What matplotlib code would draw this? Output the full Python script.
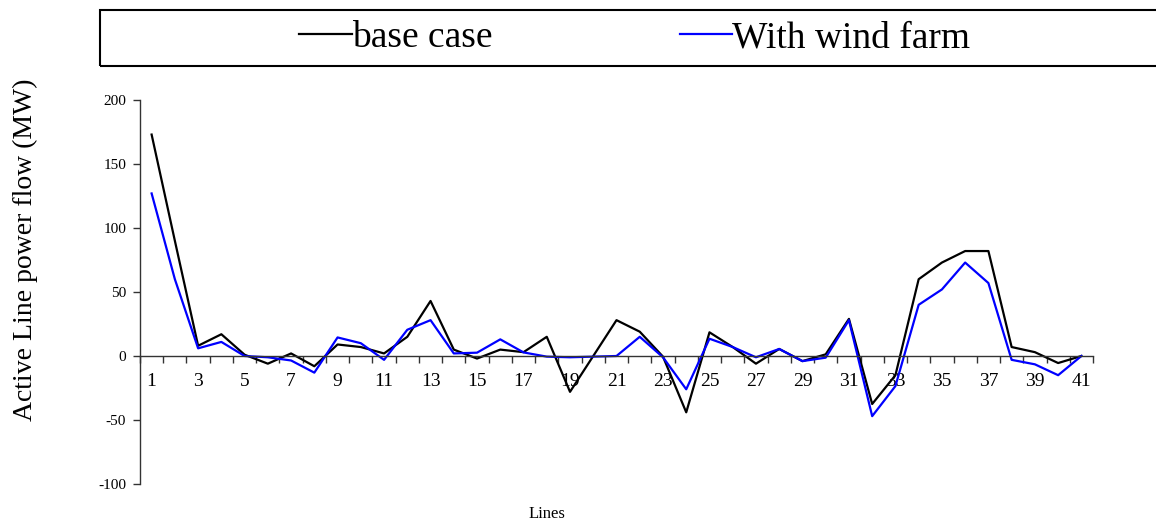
import numpy as np
import matplotlib
matplotlib.use("Agg")
import matplotlib.pyplot as plt
from matplotlib.patches import Rectangle
from matplotlib.lines import Line2D

plt.rcParams['font.family'] = ['Liberation Serif', 'DejaVu Serif']

# active power flow on each line (MW)
lines = np.arange(1, 42)
base_case = [173, 90, 8, 17, 1, -6, 2, -8, 9, 7, 2, 15, 43, 5, -2, 5, 3, 15, -28, 0,
             28, 19, -0.5, -44, 18.5, 7, -6, 5.5, -4, 1.3, 29, -37.5, -15, 60, 73, 82, 82,
             7, 3, -5.5, 0]
wind_farm = [127, 60, 6, 11, 0, -1, -3.5, -13, 14.5, 10, -3, 20.5, 28, 2, 2.6, 13, 2.8,
             -0.5, -1, -0.5, 0, 15, -1, -26, 13.5, 7, -1, 5.5, -4, -1.3, 28, -47, -23.5,
             40, 52, 73, 57, -3, -6.5, -15, 0]
y_ticks = [-100, -50, 0, 50, 100, 150, 200]

fig = plt.figure(figsize=(11.56, 5.26), dpi=100)
ax = fig.add_axes([140/1156, 1-484/526, (1093-140)/1156, (484-100)/526])

ax.plot(lines, base_case, color='black', lw=1.6)
ax.plot(lines, wind_farm, color='#0000ff', lw=1.6)

ax.set_xlim(0.5, 41.5)
ax.set_ylim(-100, 200)

for s in ['top', 'right']:
    ax.spines[s].set_visible(False)
ax.spines['bottom'].set_position(('data', 0))
ax.spines['bottom'].set_color('#333333')
ax.spines['left'].set_color('#333333')
ax.spines['bottom'].set_linewidth(1.0)
ax.spines['left'].set_linewidth(1.0)

# category axis: tick marks between lines, labels on odd lines
ax.set_xticks(np.arange(0.5, 42, 1.0))
ax.set_xticklabels([])
ax.set_xticks(lines[::2], minor=True)
ax.set_xticklabels([str(v) for v in lines[::2]], minor=True, fontsize=14)
ax.tick_params(axis='x', which='major', direction='out', length=5, width=1, color='#333333')
ax.tick_params(axis='x', which='minor', length=0, pad=12)

ax.set_yticks(y_ticks)
ax.set_yticklabels([str(v) for v in y_ticks], fontsize=11)
ax.tick_params(axis='y', direction='out', length=5, width=1, color='#333333', pad=5)

fig.text(25/1156, 1-250/526, 'Active Line power flow (MW)', rotation=90,
         ha='center', va='center', fontsize=20)
fig.text(547/1156, 1-514/526, 'Lines', ha='center', va='center', fontsize=12)

# legend box across the top
fig.patches.append(Rectangle((100/1156, 1-66/526), 1.1, 56/526, transform=fig.transFigure,
                             fill=False, edgecolor='black', lw=1.5))
handles = [Line2D([], [], color='black', lw=1.6), Line2D([], [], color='#0000ff', lw=1.6)]
fig.legend(handles, ['base case', 'With wind farm'], loc='center', ncol=2,
           bbox_to_anchor=(635/1156, 1-38/526), frameon=False, fontsize=27,
           handlelength=1.4, handletextpad=0.0, columnspacing=5.0,
           borderpad=0, borderaxespad=0)

fig.savefig('out.png', dpi=100)
